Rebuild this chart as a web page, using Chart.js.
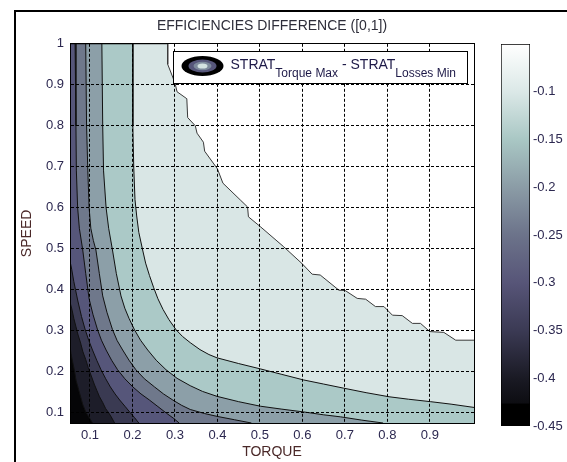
<!DOCTYPE html>
<html lang="en">
<head>
<meta charset="UTF-8">
<title>Efficiencies difference</title>
<script src="https://cdn.jsdelivr.net/npm/chart.js"></script>
<style>
  html, body { margin: 0; padding: 0; background: #fff; }
  #page { position: relative; width: 567px; height: 462px; overflow: hidden; }
  #frame { position: absolute; left: 14px; top: 10px; width: 600px; height: 500px;
           border-left: 2px solid #000; border-top: 2px solid #000; }
  #main { position: absolute; left: 0; top: 0; width: 490px; height: 462px; }
  #bar { position: absolute; left: 490px; top: 0; width: 77px; height: 462px; }
</style>
</head>
<body>
<div id="page">
  <div id="frame"></div>
  <div id="main"><canvas id="contour"></canvas></div>
  <div id="bar"><canvas id="colorbar"></canvas></div>
</div>
<script>
// axis ranges and ticks
const torqueRange = [0.053, 1.004];
const speedRange = [0.075, 1.0];
const torqueTicks = [0.1, 0.2, 0.3, 0.4, 0.5, 0.6, 0.7, 0.8, 0.9];
const torqueTickLabels = ['0.1', '0.2', '0.3', '0.4', '0.5', '0.6', '0.7', '0.8', '0.9'];
const speedTicks = [0.1, 0.2, 0.3, 0.4, 0.5, 0.6, 0.7, 0.8, 0.9, 1.0];
const speedTickLabels = ['0.1', '0.2', '0.3', '0.4', '0.5', '0.6', '0.7', '0.8', '0.9', '1'];

// contour lines, [torque, speed]; region below-left of each is filled
const lvl10 = [[0.053,1.0],[0.283,1.0],[0.283,0.95],[0.300,0.905],[0.305,0.883],[0.328,0.866],[0.330,0.82],
  [0.348,0.800],[0.352,0.782],[0.367,0.760],[0.370,0.738],[0.400,0.695],[0.413,0.660],[0.455,0.618],
  [0.471,0.602],[0.473,0.578],[0.501,0.554],[0.556,0.505],[0.599,0.464],[0.623,0.438],[0.642,0.436],
  [0.686,0.399],[0.701,0.398],[0.729,0.379],[0.749,0.377],[0.772,0.359],[0.792,0.359],[0.812,0.338],
  [0.835,0.337],[0.859,0.318],[0.878,0.318],[0.900,0.298],[0.933,0.296],[0.961,0.277],[1.004,0.277]];
const lvl15 = [[0.053,1.0],[0.201,1.0],[0.201,0.80],[0.203,0.70],[0.206,0.62],[0.210,0.58],[0.215,0.54],
  [0.224,0.497],[0.231,0.465],[0.240,0.435],[0.250,0.405],[0.260,0.378],[0.272,0.352],[0.286,0.327],
  [0.303,0.302],[0.318,0.286],[0.336,0.271],[0.359,0.254],[0.380,0.242],[0.399,0.234],[0.450,0.220],
  [0.501,0.207],[0.550,0.194],[0.603,0.180],[0.650,0.170],[0.697,0.160],[0.750,0.149],[0.804,0.139],
  [0.850,0.133],[0.902,0.127],[0.950,0.121],[1.004,0.113]];
const lvl20 = [[0.053,1.0],[0.128,1.0],[0.130,0.80],[0.132,0.69],[0.138,0.60],[0.144,0.55],[0.153,0.497],
  [0.162,0.44],[0.173,0.385],[0.182,0.355],[0.192,0.33],[0.205,0.302],[0.219,0.277],[0.236,0.253],
  [0.256,0.228],[0.279,0.205],[0.305,0.184],[0.336,0.166],[0.365,0.152],[0.399,0.140],[0.450,0.127],
  [0.501,0.116],[0.550,0.109],[0.603,0.102],[0.650,0.095],[0.690,0.090],[0.740,0.082],[0.79,0.075]];
const lvl25 = [[0.053,1.0],[0.090,1.0],[0.092,0.80],[0.095,0.69],[0.098,0.60],[0.102,0.55],[0.108,0.52],
  [0.114,0.497],[0.122,0.44],[0.130,0.385],[0.140,0.345],[0.153,0.303],[0.164,0.276],[0.177,0.253],
  [0.192,0.228],[0.208,0.205],[0.228,0.183],[0.252,0.163],[0.273,0.146],[0.295,0.131],[0.316,0.118],
  [0.336,0.108],[0.370,0.098],[0.40,0.091],[0.44,0.083],[0.48,0.075]];
const lvl30 = [[0.053,1.0],[0.065,1.0],[0.067,0.80],[0.068,0.69],[0.071,0.60],[0.075,0.55],[0.083,0.497],
  [0.090,0.44],[0.098,0.378],[0.107,0.34],[0.118,0.302],[0.127,0.277],[0.138,0.253],[0.151,0.228],
  [0.165,0.205],[0.182,0.183],[0.201,0.163],[0.220,0.146],[0.240,0.131],[0.260,0.115],[0.280,0.099],
  [0.296,0.087],[0.31,0.075]];
const lvl35 = [[0.053,0.47],[0.057,0.45],[0.062,0.42],[0.066,0.40],[0.071,0.375],[0.080,0.335],[0.089,0.302],
  [0.097,0.277],[0.106,0.253],[0.116,0.228],[0.126,0.205],[0.137,0.183],[0.148,0.163],[0.159,0.146],
  [0.170,0.131],[0.183,0.115],[0.195,0.100],[0.205,0.088],[0.215,0.075]];
const lvl40 = [[0.053,0.37],[0.058,0.35],[0.062,0.33],[0.067,0.31],[0.072,0.29],[0.078,0.27],[0.083,0.25],
  [0.090,0.23],[0.096,0.21],[0.103,0.19],[0.110,0.17],[0.116,0.155],[0.122,0.14],[0.130,0.125],
  [0.137,0.11],[0.144,0.10],[0.150,0.09],[0.158,0.075]];
const lvl45 = [[0.053,0.26],[0.056,0.24],[0.060,0.22],[0.064,0.20],[0.067,0.18],[0.071,0.165],[0.075,0.15],
  [0.079,0.135],[0.083,0.12],[0.087,0.11],[0.091,0.10],[0.096,0.092],[0.100,0.085],[0.106,0.075]];

const contourLines = [lvl10, lvl15, lvl20, lvl25, lvl30, lvl35, lvl40, lvl45];
const bandColors = ['#d9e6e5', '#abc9c7', '#8c9fa8', '#6f788b', '#56567a', '#3a3a52', '#1d1d29', '#050507'];

// colorbar
const cbarRange = [-0.45, -0.05];
const cbarTicks = [-0.45, -0.4, -0.35, -0.3, -0.25, -0.2, -0.15, -0.1];
const cbarTickLabels = ['-0.45', '-0.4', '-0.35', '-0.3', '-0.25', '-0.2', '-0.15', '-0.1'];
const cbarStops = [[-0.05,'#ffffff'],[-0.1,'#dbe8e7'],[-0.15,'#a9c7c4'],[-0.2,'#8b9ca6'],[-0.25,'#6c738a'],
  [-0.3,'#575578'],[-0.35,'#3b3a54'],[-0.4,'#1a1a24'],[-0.426,'#0d0d12'],[-0.427,'#000000'],[-0.45,'#000000']];

// legend text, second value = subscript
const legendParts = [['STRAT', false], ['Torque Max', true], [' - STRAT', false], ['Losses Min', true]];

Chart.defaults.font.family = '"Liberation Sans", Arial, sans-serif';
Chart.defaults.font.size = 13;
Chart.defaults.color = '#2c2850';
Chart.defaults.animation = false;

const legendBox = {
  id: 'legendBox',
  afterDraw(chart) {
    const ctx = chart.ctx, a = chart.chartArea;
    const w = 294, h = 32;
    const x = Math.round(a.right - 7 - w) + 0.5, y = Math.round(a.top + 7) + 0.5;
    ctx.save();
    ctx.fillStyle = '#fff';
    ctx.fillRect(x, y, w, h);
    ctx.strokeStyle = '#000';
    ctx.lineWidth = 1;
    ctx.strokeRect(x, y, w, h);
    // contour icon
    const cx = x + 29, cy = y + 14.5;
    const rings = [[21, 10, '#000'], [14, 6.5, '#56567a'], [9, 4.2, '#7d8a9c'], [5, 2.6, '#d3e2e1']];
    rings.forEach(r => {
      ctx.beginPath();
      ctx.ellipse(cx, cy, r[0], r[1], 0, 0, Math.PI * 2);
      ctx.fillStyle = r[2];
      ctx.fill();
    });
    // text with subscripts
    let tx = x + 57;
    ctx.fillStyle = '#1e1a48';
    ctx.textBaseline = 'alphabetic';
    legendParts.forEach(p => {
      ctx.font = (p[1] ? '12px' : '14px') + ' "Liberation Sans", Arial, sans-serif';
      ctx.fillText(p[0], tx, p[1] ? y + 25 : y + 17);
      tx += ctx.measureText(p[0]).width;
    });
    ctx.restore();
  }
};

const datasets = contourLines.map((pts, i) => ({
  label: 'level ' + i,
  data: pts.map(p => ({ x: p[0], y: p[1] })),
  fill: 'start',
  backgroundColor: bandColors[i],
  borderColor: i === 0 ? '#3a3a3a' : '#111',
  borderWidth: 1,
  pointRadius: 0,
  tension: 0,
  order: contourLines.length - i
}));

new Chart(document.getElementById('contour'), {
  type: 'line',
  data: { datasets: datasets },
  options: {
    responsive: true,
    maintainAspectRatio: false,
    layout: { padding: { left: 0, right: 16, top: 0, bottom: 0 } },
    plugins: {
      legend: { display: false },
      tooltip: { enabled: false },
      title: {
        display: true,
        fullSize: false,
        text: 'EFFICIENCIES DIFFERENCE ([0,1])',
        color: '#2e2e3a',
        font: { size: 14, weight: 'normal' },
        padding: { top: 18, bottom: 9 }
      }
    },
    scales: {
      x: {
        type: 'linear',
        min: torqueRange[0],
        max: torqueRange[1],
        afterBuildTicks: s => { s.ticks = torqueTicks.map(v => ({ value: v })); },
        afterFit: s => { s.height = 39; },
        ticks: { padding: 5, callback: (v, i) => torqueTickLabels[i] },
        grid: { color: '#000', lineWidth: 1, drawTicks: false, z: 1 },
        border: { color: '#000', dash: [3, 2], z: 1 },
        title: { display: true, text: 'TORQUE', color: '#4a2828', font: { size: 14 }, padding: { top: 0, bottom: 1 } }
      },
      y: {
        type: 'linear',
        min: speedRange[0],
        max: speedRange[1],
        afterBuildTicks: s => { s.ticks = speedTicks.map(v => ({ value: v })); },
        afterFit: s => { s.width = 70; },
        ticks: { padding: 6, callback: (v, i) => speedTickLabels[i] },
        grid: { color: '#000', lineWidth: 1, drawTicks: false, z: 1 },
        border: { color: '#000', dash: [3, 2], z: 1 },
        title: { display: true, text: 'SPEED', color: '#4a2828', font: { size: 14 }, padding: { top: 19, bottom: 0 } }
      },
      x2: {
        type: 'linear', position: 'top',
        min: torqueRange[0], max: torqueRange[1],
        ticks: { display: false },
        grid: { display: false, drawTicks: false },
        border: { color: '#000', z: 1 },
        afterFit: s => { s.height = 0; }
      },
      y2: {
        type: 'linear', position: 'right',
        min: speedRange[0], max: speedRange[1],
        ticks: { display: false },
        grid: { display: false, drawTicks: false },
        border: { color: '#000', z: 1 },
        afterFit: s => { s.width = 0; }
      }
    }
  },
  plugins: [legendBox]
});

function barGradient(context) {
  const chart = context.chart;
  if (!chart.chartArea) return '#888';
  const ys = chart.scales.y;
  const top = ys.getPixelForValue(cbarRange[1]);
  const bottom = ys.getPixelForValue(cbarRange[0]);
  const g = chart.ctx.createLinearGradient(0, top, 0, bottom);
  cbarStops.forEach(s => {
    g.addColorStop((cbarRange[1] - s[0]) / (cbarRange[1] - cbarRange[0]), s[1]);
  });
  return g;
}

new Chart(document.getElementById('colorbar'), {
  type: 'bar',
  data: {
    labels: [''],
    datasets: [{
      data: [cbarRange],
      backgroundColor: barGradient,
      borderColor: '#000',
      borderWidth: 1,
      borderSkipped: false,
      categoryPercentage: 1,
      barPercentage: 1
    }]
  },
  options: {
    responsive: true,
    maintainAspectRatio: false,
    layout: { padding: { left: 11, right: 0, top: 44, bottom: 36 } },
    plugins: { legend: { display: false }, tooltip: { enabled: false } },
    scales: {
      x: { display: false },
      y: {
        position: 'right',
        min: cbarRange[0],
        max: cbarRange[1],
        afterBuildTicks: s => { s.ticks = cbarTicks.map(v => ({ value: v })); },
        afterFit: s => { s.width = 37; },
        ticks: { padding: 3, callback: (v, i) => cbarTickLabels[i] },
        grid: { display: false, drawTicks: false },
        border: { display: false }
      }
    }
  }
});
</script>
</body>
</html>
